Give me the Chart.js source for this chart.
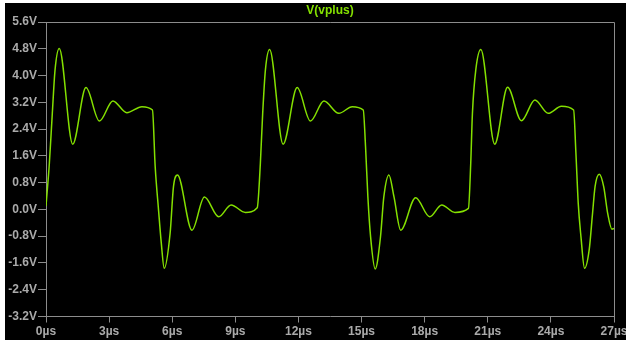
<!DOCTYPE html>
<html>
<head>
<meta charset="utf-8">
<title>V(vplus)</title>
<script src="https://cdn.jsdelivr.net/npm/chart.js@4/dist/chart.umd.min.js"></script>
<style>
  html, body { margin: 0; padding: 0; background: #ffffff; }
  #plot { position: absolute; left: 5px; top: 3px; width: 621px; height: 337px; background: #000000; }
</style>
</head>
<body>
<div id="plot"><canvas id="waveChart" width="621" height="337"></canvas></div>
<script>
// transient node voltage, time in µs
const timeUs = [
    0.00, 0.16, 0.30, 0.43, 0.63, 1.27, 1.90, 2.54, 3.18, 3.84, 4.56, 5.06,
    5.19, 5.35, 5.48, 5.62, 5.90, 6.06, 6.25, 6.94, 7.53, 8.21, 8.80, 9.48, 10.04,
    10.19, 10.30, 10.43, 10.63, 11.27, 11.94, 12.57, 13.21, 13.92, 14.56, 15.08,
    15.19, 15.30, 15.43, 15.65, 15.90, 16.06, 16.30, 16.54, 16.86, 17.57, 18.24, 18.81, 19.44, 20.08,
    20.19, 20.27, 20.43, 20.67, 21.33, 21.94, 22.60, 23.24, 23.87, 24.50, 25.08,
    25.19, 25.30, 25.43, 25.60, 25.82, 25.98, 26.10, 26.30, 26.51, 26.70, 26.90, 27.00
];
const vplus = [
    0.10, 1.38, 2.87, 4.17, 4.81, 1.95, 3.64, 2.64, 3.24, 2.89, 3.07, 2.97,
    1.28, -0.02, -1.00, -1.76, -0.71, 0.68, 1.03, -0.62, 0.37, -0.22, 0.13, -0.09, 0.05,
    1.38, 2.87, 4.17, 4.78, 1.95, 3.64, 2.64, 3.24, 2.87, 3.07, 2.97,
    1.87, 0.38, -0.82, -1.78, -0.82, 0.38, 1.03, 0.38, -0.62, 0.35, -0.22, 0.13, -0.09, 0.03,
    1.38, 2.87, 4.17, 4.78, 1.95, 3.65, 2.65, 3.27, 2.87, 3.08, 2.97,
    1.68, 0.18, -0.82, -1.76, -1.21, -0.12, 0.68, 1.05, 0.68, -0.12, -0.59, -0.57
];
const timeTicks = [0, 3, 6, 9, 12, 15, 18, 21, 24, 27];
const voltTicks = [-3.2, -2.4, -1.6, -0.8, 0.0, 0.8, 1.6, 2.4, 3.2, 4.0, 4.8, 5.6];

const traceColor = '#84e000';
const axisColor = '#8c8c8c';
const labelColor = '#aaaaaa';
const labelFont = { family: 'Liberation Sans', size: 12, weight: 'bold' };

// frame on top/right plus the trace name above the plot
const framePlugin = {
    id: 'frame',
    afterDraw(chart) {
        const { ctx, chartArea } = chart;
        ctx.save();
        ctx.strokeStyle = axisColor;
        ctx.lineWidth = 1;
        ctx.beginPath();
        ctx.moveTo(chartArea.left, Math.round(chartArea.top) + 0.5);
        ctx.lineTo(Math.round(chartArea.right) + 0.5, Math.round(chartArea.top) + 0.5);
        ctx.lineTo(Math.round(chartArea.right) + 0.5, chartArea.bottom);
        ctx.stroke();
        ctx.fillStyle = traceColor;
        ctx.font = 'bold 12px "Liberation Sans"';
        ctx.textAlign = 'center';
        ctx.textBaseline = 'middle';
        ctx.fillText('V(vplus)', (chartArea.left + chartArea.right) / 2, 8);
        ctx.restore();
    }
};

const ctx = document.getElementById('waveChart').getContext('2d');
const waveChart = new Chart(ctx, {
    type: 'line',
    data: {
        datasets: [{
            label: 'V(vplus)',
            data: timeUs.map((t, i) => ({ x: t, y: vplus[i] })),
            borderColor: traceColor,
            borderWidth: 1.5,
            pointRadius: 0,
            cubicInterpolationMode: 'monotone',
            fill: false
        }]
    },
    options: {
        responsive: false,
        animation: false,
        layout: { padding: { top: 19, right: 12, left: 0, bottom: 0 } },
        plugins: { legend: { display: false }, tooltip: { enabled: false } },
        scales: {
            x: {
                type: 'linear',
                min: 0,
                max: 27,
                afterBuildTicks(scale) { scale.ticks = timeTicks.map(v => ({ value: v })); },
                afterFit(scale) { scale.height = 23.5; scale.paddingLeft = 0; scale.paddingRight = 0; },
                grid: { drawOnChartArea: false, color: axisColor, tickLength: 6 },
                border: { color: axisColor },
                ticks: {
                    color: labelColor,
                    font: labelFont,
                    padding: 2,
                    maxRotation: 0,
                    autoSkip: false,
                    callback: v => v + 'µs'
                }
            },
            y: {
                min: -3.2,
                max: 5.6,
                afterBuildTicks(scale) { scale.ticks = voltTicks.map(v => ({ value: v })); },
                afterFit(scale) { scale.width = 41; scale.paddingTop = 0; scale.paddingBottom = 0; },
                grid: { drawOnChartArea: false, color: axisColor, tickLength: 8 },
                border: { color: axisColor },
                ticks: {
                    color: labelColor,
                    font: labelFont,
                    padding: 1,
                    autoSkip: false,
                    callback: v => (Math.abs(v) < 1e-9 ? '0.0' : v.toFixed(1)) + 'V'
                }
            }
        }
    },
    plugins: [framePlugin]
});
</script>
</body>
</html>
